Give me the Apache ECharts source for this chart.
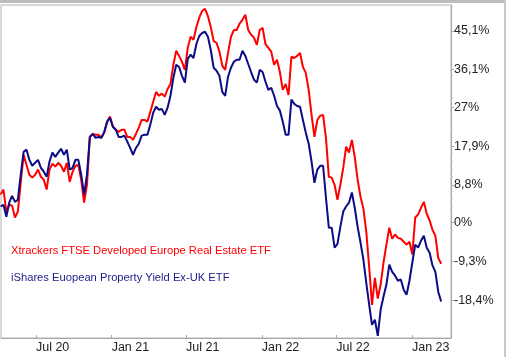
<!DOCTYPE html>
<html>
<head>
<meta charset="utf-8">
<script src="https://cdn.jsdelivr.net/npm/echarts@6/dist/echarts.min.js"></script>
<style>
html,body{margin:0;padding:0;background:#fff;}
#wrap{position:relative;width:506px;height:357px;overflow:hidden;}
#chart{position:absolute;left:0;top:0;width:506px;height:357px;}
.fr{position:absolute;pointer-events:none;}
</style>
</head>
<body>
<div id="wrap">
<div id="chart"></div>
<div class="fr" style="left:0;top:0;width:506px;height:3px;background:#bdbdbd;"></div>
<div class="fr" style="left:504px;top:0;width:2px;height:357px;background:#c8c8c8;"></div>
</div>
<script>
const dates = [
'2020-04-06','2020-04-13','2020-04-20','2020-04-27','2020-05-04','2020-05-11','2020-05-18','2020-05-25','2020-06-01','2020-06-08',
'2020-06-15','2020-06-22','2020-06-29','2020-07-06','2020-07-13','2020-07-20','2020-07-27','2020-08-03','2020-08-10','2020-08-17',
'2020-08-24','2020-08-31','2020-09-07','2020-09-14','2020-09-21','2020-09-28','2020-10-05','2020-10-12','2020-10-19','2020-10-26',
'2020-11-02','2020-11-09','2020-11-16','2020-11-23','2020-11-30','2020-12-07','2020-12-14','2020-12-21','2020-12-28',
'2021-01-04','2021-01-11','2021-01-18','2021-01-25','2021-02-01','2021-02-08','2021-02-15','2021-02-22','2021-03-01','2021-03-08',
'2021-03-15','2021-03-22','2021-03-29','2021-04-05','2021-04-12','2021-04-19','2021-04-26','2021-05-03','2021-05-10','2021-05-17',
'2021-05-24','2021-05-31','2021-06-07','2021-06-14','2021-06-21','2021-06-28','2021-07-05','2021-07-12','2021-07-19','2021-07-26',
'2021-08-02','2021-08-09','2021-08-16','2021-08-23','2021-08-30','2021-09-06','2021-09-13','2021-09-20','2021-09-27','2021-10-04',
'2021-10-11','2021-10-18','2021-10-25','2021-11-01','2021-11-08','2021-11-15','2021-11-22','2021-11-29','2021-12-06','2021-12-13',
'2021-12-20','2021-12-27',
'2022-01-03','2022-01-10','2022-01-17','2022-01-24','2022-01-31','2022-02-07','2022-02-14','2022-02-21','2022-02-28','2022-03-07',
'2022-03-14','2022-03-21','2022-03-28','2022-04-04','2022-04-11','2022-04-18','2022-04-25','2022-05-02','2022-05-09','2022-05-16',
'2022-05-23','2022-05-30','2022-06-06','2022-06-13','2022-06-20','2022-06-27','2022-07-04','2022-07-11','2022-07-18','2022-07-25',
'2022-08-01','2022-08-08','2022-08-15','2022-08-22','2022-08-29','2022-09-05','2022-09-12','2022-09-19','2022-09-26','2022-10-03',
'2022-10-10','2022-10-17','2022-10-24','2022-10-31','2022-11-07','2022-11-14','2022-11-21','2022-11-28','2022-12-05','2022-12-12',
'2022-12-19','2022-12-26',
'2023-01-02','2023-01-09','2023-01-16','2023-01-23','2023-01-30','2023-02-06','2023-02-13','2023-02-20','2023-02-27','2023-03-06',
'2023-03-13'
];

const xtrackers = [
6.5,7.7,2.5,4.1,3.9,1.1,2.5,9.3,15.9,13.5,
11.2,10.5,11.2,12.4,10.7,10.0,7.7,12.4,13.8,13.1,
14.0,13.3,11.9,14.0,9.5,11.9,13.3,13.5,10.0,4.6,
8.8,20.1,20.8,20.6,20.6,19.9,21.1,23.7,24.9,
22.5,21.8,21.3,21.8,21.8,20.1,20.1,19.4,20.8,22.3,
24.1,24.1,23.7,26.0,28.4,30.7,29.8,30.3,29.6,31.4,
32.6,37.1,40.4,39.2,37.8,35.9,41.1,43.7,43.0,46.0,
48.2,49.8,50.3,48.6,46.0,42.7,42.3,40.2,36.9,35.9,
39.9,43.7,45.3,45.3,46.8,47.7,48.9,45.3,44.2,43.5,
41.8,45.3,
45.8,42.0,41.1,40.2,37.1,38.3,35.4,31.2,32.6,30.0,
39.0,38.7,39.2,39.9,36.6,35.2,31.2,25.3,20.1,24.1,
25.1,25.3,19.9,10.7,10.5,8.8,5.3,8.8,12.8,17.8,
16.4,19.4,15.4,10.0,6.0,3.2,-2.2,-10.5,-19.5,-13.1,
-18.0,-14.7,-9.5,-5.3,-1.3,-3.9,-2.9,-3.7,-3.9,-4.6,
-5.3,-4.6,
-7.6,1.1,1.8,3.4,4.8,2.0,0.4,-1.8,-3.2,-8.4,
-9.8
];

const ishares = [
3.7,4.1,1.3,4.6,6.2,4.8,5.3,11.2,16.6,17.1,
14.7,13.3,14.0,14.7,12.8,11.9,10.7,14.3,16.4,15.4,
16.4,17.3,15.9,17.1,12.4,12.8,14.7,14.7,11.2,6.5,
11.2,20.1,20.8,19.9,20.1,19.9,21.3,23.7,24.6,
22.5,21.8,20.1,20.1,20.4,19.0,17.5,15.9,17.5,18.5,
20.4,20.6,20.6,23.0,25.8,27.2,26.5,26.7,25.3,27.0,
29.8,34.0,37.1,36.6,34.5,32.9,38.5,39.5,38.7,42.0,
43.9,44.6,44.9,43.7,40.6,36.4,35.7,34.5,30.7,29.8,
34.3,36.4,37.8,38.3,38.3,40.4,39.2,37.3,35.4,33.6,
32.9,35.9,
35.4,33.1,31.2,31.7,29.8,27.4,26.3,23.7,20.6,20.6,
28.9,27.9,27.4,27.2,24.1,21.1,18.5,14.3,9.3,12.4,
13.3,13.3,5.8,-1.3,-1.3,-6.0,-5.1,-1.1,2.5,3.7,
4.6,7.0,3.4,-1.1,-4.8,-8.8,-14.3,-19.4,-24.2,-23.0,
-26.8,-20.6,-17.5,-14.7,-10.0,-11.7,-12.6,-13.8,-13.5,-15.9,
-17.1,-13.8,
-9.5,-5.3,-6.0,-4.4,-3.2,-6.0,-7.2,-10.2,-11.7,-16.4,
-18.7
];

const yTicks = [-18.4, -9.3, 0, 8.8, 17.9, 27, 36.1, 45.1];
const xTickDates = ['2020-07-01','2021-01-01','2021-07-01','2022-01-01','2022-07-01','2023-01-01'];
const xTickLabels = ['Jul 20','Jan 21','Jul 21','Jan 22','Jul 22','Jan 23'];
const seriesNames = ['Xtrackers FTSE Developed Europe Real Estate ETF', 'iShares Euopean Property Yield Ex-UK ETF'];

function toTime(s){ const p = s.split('-').map(Number); return Date.UTC(p[0], p[1]-1, p[2]); }
const xTickTimes = xTickDates.map(toTime);

const chart = echarts.init(document.getElementById('chart'), null, {renderer:'canvas'});
chart.setOption({
  animation: false,
  backgroundColor: '#ffffff',
  textStyle: {fontFamily: 'Liberation Sans, Arial, sans-serif'},
  grid: {left: 1, top: 5, right: 55, bottom: 19, show: true, borderColor: '#b4b4b4', borderWidth: 1, backgroundColor: 'transparent'},
  legend: {
    orient: 'vertical', left: 5, top: 245, padding: 0, itemGap: 16, itemWidth: 0, itemHeight: 0,
    selectedMode: false,
    data: [
      {name: seriesNames[0], textStyle: {color: '#ff0000'}},
      {name: seriesNames[1], textStyle: {color: '#1c1c8c'}}
    ],
    textStyle: {fontSize: 11.2, fontFamily: 'Liberation Sans, Arial, sans-serif'}
  },
  xAxis: {
    type: 'value',
    min: toTime('2020-04-07'),
    max: toTime('2023-04-06'),
    axisLine: {onZero: false, lineStyle: {color: '#a8a8a8', width: 1}},
    axisTick: {show: true, inside: true, length: 3, customValues: xTickTimes, lineStyle: {color: '#a8a8a8'}},
    axisLabel: {
      customValues: xTickTimes,
      align: 'left', margin: 3, fontSize: 12.5, color: '#222',
      formatter: function(v){ const i = xTickTimes.indexOf(v); return i >= 0 ? xTickLabels[i] : ''; }
    },
    splitLine: {show: false}
  },
  yAxis: {
    type: 'value',
    position: 'right',
    min: -27.3, max: 51.2, interval: 9.1,
    axisLine: {show: true, onZero: false, lineStyle: {color: '#a8a8a8', width: 1}},
    axisTick: {show: true, length: 3, customValues: yTicks, lineStyle: {color: '#a8a8a8'}},
    minorTick: {show: true, splitNumber: 5, length: 2, lineStyle: {color: '#c4c4c4'}},
    axisLabel: {
      customValues: yTicks,
      margin: 3, fontSize: 12.5, color: '#222',
      formatter: function(v){ return String(v).replace('.', ',') + '%'; }
    },
    splitLine: {show: false}
  },
  series: [
    {
      name: seriesNames[0], type: 'line', showSymbol: false, symbol: 'none',
      lineStyle: {color: '#ff0000', width: 2}, itemStyle: {color: '#ff0000'},
      data: dates.map((d, i) => [toTime(d), xtrackers[i]])
    },
    {
      name: seriesNames[1], type: 'line', showSymbol: false, symbol: 'none',
      lineStyle: {color: '#0c0c86', width: 2}, itemStyle: {color: '#0c0c86'},
      data: dates.map((d, i) => [toTime(d), ishares[i]])
    }
  ]
});
</script>
</body>
</html>
